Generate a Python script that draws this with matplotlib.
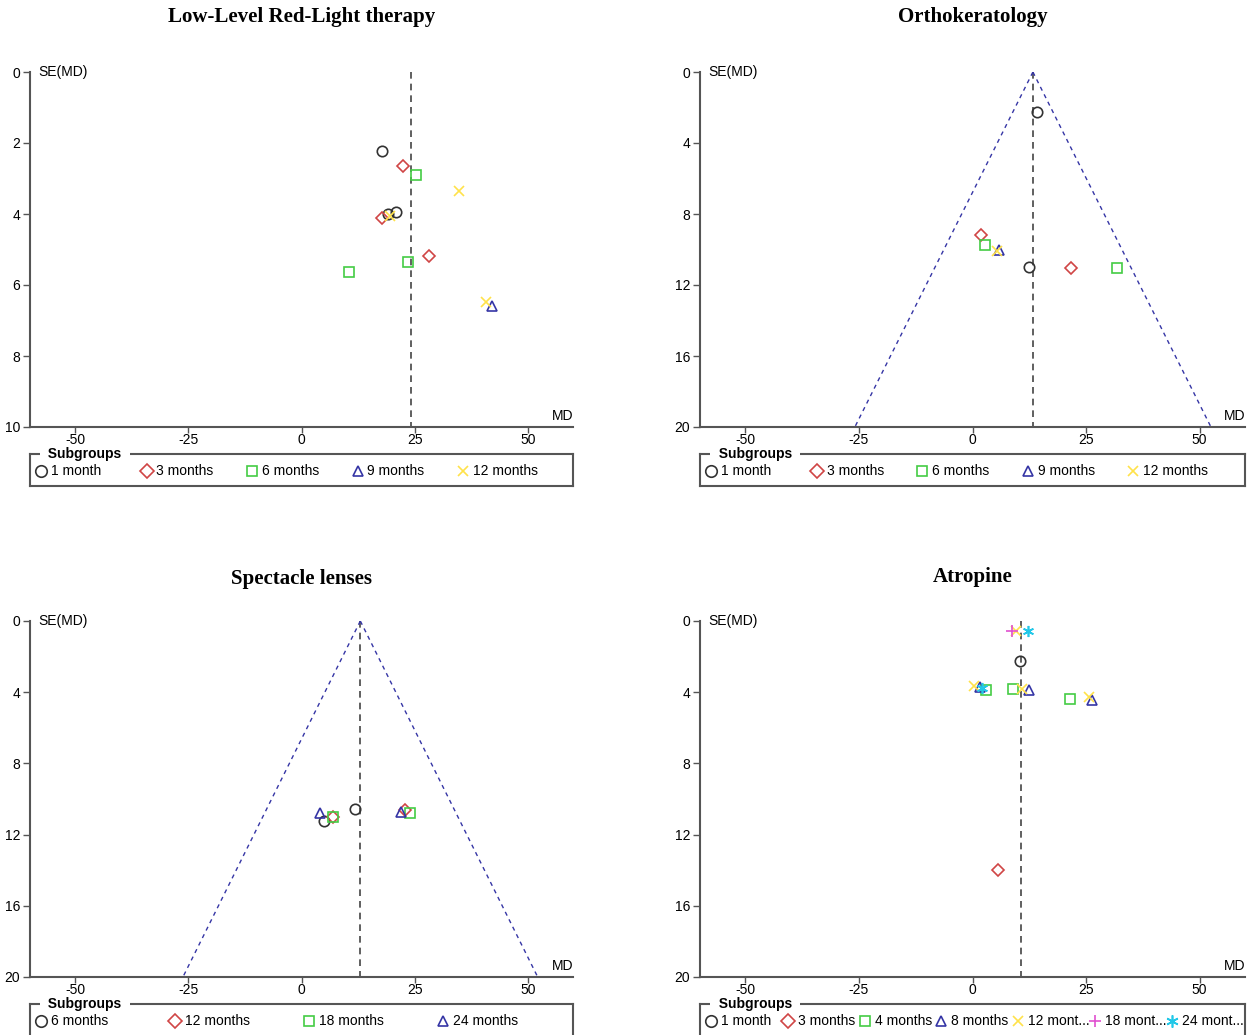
import matplotlib
matplotlib.use("Agg")
import matplotlib.pyplot as plt

W, H = 1250, 1035

# ── Data ──────────────────────────────────────────────────────────────────────
RLRL_GROUPS = ["1 month", "3 months", "6 months", "9 months", "12 months"]
RLRL_MD = [[17.9, 19.2, 20.9], [22.5, 17.8, 28.2], [25.3, 23.5, 10.6], [42.1], [34.8, 19.5, 40.7]]
RLRL_SE = [[2.23, 4.01, 3.94], [2.64, 4.12, 5.17], [2.91, 5.34, 5.64], [6.58], [3.34, 4.07, 6.49]]
RLRL_POOLED = 24.2

ORTHO_GROUPS = ["1 month", "3 months", "6 months", "9 months", "12 months"]
ORTHO_MD = [[14.1, 12.4], [1.8, 21.6], [2.8, 31.8], [5.9], [5.4]]
ORTHO_SE = [[2.25, 10.99], [9.16, 11.02], [9.73, 11.04], [10.02], [10.1]]
ORTHO_POOLED = 13.3

SPEC_GROUPS = ["6 months", "12 months", "18 months", "24 months"]
SPEC_MD = [[4.9, 11.9], [6.9, 22.9], [6.9, 24.0], [4.0, 22.0]]
SPEC_SE = [[11.22, 10.54], [11.0, 10.6], [11.02, 10.8], [10.8, 10.75]]
SPEC_POOLED = 13.0

ATRO_GROUPS = ["1 month", "3 months", "4 months", "8 months", "12 mont...", "18 mont...", "24 mont..."]
ATRO_MD = [[10.4], [5.6], [2.9, 9.0, 21.4], [1.7, 12.5, 26.4], [9.6, 0.4, 10.8, 25.7], [8.6], [12.3, 2.2]]
ATRO_SE = [[2.25], [13.98], [3.85, 3.8, 4.4], [3.7, 3.85, 4.46], [0.58, 3.66, 3.83, 4.25], [0.58], [0.58, 3.76]]
ATRO_POOLED = 10.7

# ── Styles ────────────────────────────────────────────────────────────────────
MARKERS = [
    dict(marker="o", ms=7.5, mec="#333333"),
    dict(marker="D", ms=6.5, mec="#D04545"),
    dict(marker="s", ms=6.5, mec="#44CC44"),
    dict(marker="^", ms=7, mec="#3535A5"),
    dict(marker="x", ms=7, mec="#FFE24A"),
    dict(marker="+", ms=8, mec="#E050D0"),
    dict(marker=(6, 2, 0), ms=8, mec="#22C8E8"),
]
AXIS_COL = "#555555"
SANS = ["Liberation Sans", "DejaVu Sans"]
SERIF = ["Liberation Serif", "DejaVu Serif"]

plt.rcParams["font.family"] = SANS
plt.rcParams["axes.unicode_minus"] = False

fig = plt.figure(figsize=(W / 100, H / 100), dpi=100)


def fig_rect(l, t, r, b):
    return [l / W, 1 - b / H, (r - l) / W, (b - t) / H]


def funnel_panel(box, legbox, leg_step, title, title_y, groups, md, se, pooled,
                 se_max, yticks, show_funnel):
    ax = fig.add_axes(fig_rect(*box))
    for i, (x, y) in enumerate(zip(md, se)):
        st = MARKERS[i]
        ax.plot(x, y, ls="none", marker=st["marker"], ms=st["ms"], mfc="none",
                mec=st["mec"], mew=1.2, clip_on=False, zorder=4)

    ax.plot([pooled, pooled], [0, se_max], ls=(0, (4, 3)), color="#444444", lw=1.2, zorder=2)
    if show_funnel:
        for sgn in (-1, 1):
            ax.plot([pooled, pooled + sgn * 1.96 * se_max], [0, se_max],
                    ls=(0, (3, 3)), color="#3535A5", lw=1.0, zorder=2)

    ax.set_xlim(-60, 60)
    ax.set_ylim(se_max, 0)
    ax.set_xticks([-50, -25, 0, 25, 50])
    ax.set_yticks(yticks)
    for s in ("top", "right"):
        ax.spines[s].set_visible(False)
    for s in ("left", "bottom"):
        ax.spines[s].set_color(AXIS_COL)
        ax.spines[s].set_linewidth(1.5)
    ax.tick_params(axis="y", length=5, width=1, color=AXIS_COL, pad=2, labelsize=10)
    ax.tick_params(axis="x", length=4, width=1, color=AXIS_COL, pad=0.5, labelsize=10)
    ax.text(8 / (box[2] - box[0]), 1.0, "SE(MD)", transform=ax.transAxes,
            ha="left", va="center", fontsize=10)
    ax.text(1.0, 11 / (box[3] - box[1]), "MD", transform=ax.transAxes,
            ha="right", va="center", fontsize=10)

    cx = (box[0] + box[2]) / 2
    fig.text(cx / W, 1 - title_y / H, title, ha="center", va="center",
             fontsize=15, fontweight="bold", family=SERIF)

    # legend box, drawn as its own small axes
    lax = fig.add_axes(fig_rect(*legbox))
    lax.set_xticks([])
    lax.set_yticks([])
    lax.set_xlim(0, 1)
    lax.set_ylim(0, 1)
    lax.patch.set_alpha(0)
    for s in lax.spines.values():
        s.set_color(AXIS_COL)
        s.set_linewidth(1.5)
    lw_px = legbox[2] - legbox[0]
    lh_px = legbox[3] - legbox[1]
    row_y = 1 - 17 / lh_px
    for i, g in enumerate(groups):
        st = MARKERS[i]
        mx = (11 + i * leg_step) / lw_px
        lax.plot(mx, row_y, ls="none", marker=st["marker"], ms=st["ms"] + 0.8,
                 mfc="none", mec=st["mec"], mew=1.2, clip_on=False)
        lax.text(mx + 10 / lw_px, row_y, g, ha="left", va="center", fontsize=10)
    lax.text(55 / lw_px, 1.0, "  Subgroups  ", ha="center", va="center", fontsize=10,
             fontweight="bold", bbox=dict(fc="white", ec="none", pad=0.5))
    return ax


funnel_panel((30, 72, 573, 427), (30, 454, 573, 486), 105.5, "Low-Level Red-Light therapy", 17,
             RLRL_GROUPS, RLRL_MD, RLRL_SE, RLRL_POOLED, 10, [0, 2, 4, 6, 8, 10], False)
funnel_panel((700, 72, 1245, 427), (700, 454, 1245, 486), 105.5, "Orthokeratology", 17,
             ORTHO_GROUPS, ORTHO_MD, ORTHO_SE, ORTHO_POOLED, 20, [0, 4, 8, 12, 16, 20], True)
funnel_panel((30, 621, 573, 977), (30, 1004, 573, 1050), 134, "Spectacle lenses", 579,
             SPEC_GROUPS, SPEC_MD, SPEC_SE, SPEC_POOLED, 20, [0, 4, 8, 12, 16, 20], True)
funnel_panel((700, 621, 1245, 977), (700, 1004, 1245, 1050), 76.8, "Atropine", 577,
             ATRO_GROUPS, ATRO_MD, ATRO_SE, ATRO_POOLED, 20, [0, 4, 8, 12, 16, 20], False)

fig.savefig("out.png", dpi=100, facecolor="white")
